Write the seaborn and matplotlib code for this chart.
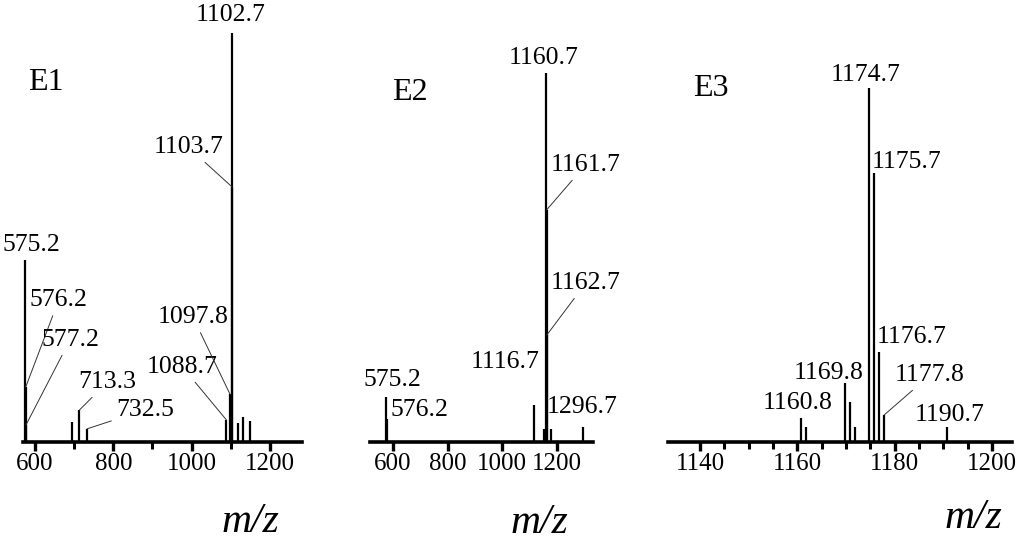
import matplotlib
matplotlib.use("Agg")
import matplotlib.pyplot as plt
import seaborn as sns

# peak lists (relative intensity, %)
e1_mz = [575.2, 576.2, 577.2, 695.0, 713.3, 732.5, 1088.7, 1097.8, 1102.7, 1103.7, 1118.0, 1131.0, 1149.0]
e1_int = [44.5, 13.4, 4.2, 4.9, 7.8, 3.2, 5.4, 11.7, 100.0, 62.3, 4.6, 6.1, 5.1]
e1_labels = [1102.7, 1103.7, 575.2, 576.2, 577.2, 713.3, 732.5, 1088.7, 1097.8]

e2_mz = [575.2, 576.2, 1116.7, 1152.0, 1160.7, 1161.7, 1162.7, 1178.0, 1296.7]
e2_int = [12.2, 6.2, 10.0, 3.5, 100.0, 62.9, 29.0, 3.5, 4.0]
e2_labels = [1160.7, 1161.7, 1162.7, 575.2, 576.2, 1116.7, 1296.7]

e3_mz = [1160.8, 1161.8, 1169.8, 1170.8, 1171.8, 1174.7, 1175.7, 1176.7, 1177.8, 1190.7]
e3_int = [6.8, 4.2, 16.7, 11.3, 4.2, 100.0, 76.0, 25.4, 7.6, 4.2]
e3_labels = [1174.7, 1175.7, 1176.7, 1177.8, 1169.8, 1160.8, 1190.7]

panel_names = ["E1", "E2", "E3"]

# label placement: (dx, dy) in pixels from the peak top, and whether a leader line is drawn
e1_offsets = [(-1, 18, False), (-44, 40, True), (6, 15, False), (33, 87, True), (44, 85, True),
              (28, 28, True), (58, 19, True), (-44, 53, True), (-37, 77, True)]
e2_offsets = [(-3, 15, False), (39, 45, True), (39, 52, True), (6, 17, False), (33, 9, False),
              (-29, 43, False), (-1, 20, False)]
e3_offsets = [(-3, 13, False), (33, 11, False), (33, 15, False), (46, 40, True), (-16, 10, False),
              (-4, 15, False), (3, 12, False)]

sns.set_theme(style="white")
plt.rcParams['font.family'] = ['Liberation Serif', 'DejaVu Serif']
plt.rcParams['text.color'] = 'black'
plt.rcParams['xtick.color'] = 'black'
plt.rcParams['xtick.labelcolor'] = 'black'

W, H = 1024, 542
fig = plt.figure(figsize=(W / 100, H / 100), dpi=100)

bottom = (H - 442) / H
height = 432 / H
axes_boxes = [(23, 279), (370, 223), (668, 344)]
xlims = [(569.4, 1281.7), (515.8, 1331.7), (1133.4, 1204.1)]
ylims = [105.6, 117.1, 122.0]
major = [[600, 800, 1000, 1200], [600, 800, 1000, 1200], [1140, 1160, 1180, 1200]]
minor = [[700, 900, 1100], [], [1145, 1150, 1155, 1165, 1170, 1175, 1185, 1190, 1195]]
name_pos = [(46, 83), (410, 92), (711, 88)]
mz_pos = [(250, 522), (539, 523), (973, 518)]

series = [(e1_mz, e1_int, e1_labels, e1_offsets),
          (e2_mz, e2_int, e2_labels, e2_offsets),
          (e3_mz, e3_int, e3_labels, e3_offsets)]

for i, (mz, inten, labels, offsets) in enumerate(series):
    left, width = axes_boxes[i]
    ax = fig.add_axes([left / W, bottom, width / W, height])
    ax.vlines(mz, 0, inten, color="black", lw=1.6)
    ax.set_xlim(*xlims[i])
    ax.set_ylim(0, ylims[i])
    sns.despine(ax=ax, left=True)
    ax.spines['bottom'].set_linewidth(2.6)
    ax.spines['bottom'].set_color("black")
    ax.set_yticks([])
    ax.set_xticks(major[i])
    ax.set_xticks(minor[i], minor=True)
    ax.set_xticklabels([str(t) for t in major[i]])
    ax.tick_params(axis="x", which="major", direction="out", length=6.5, width=2.4,
                   color="black", labelcolor="black", labelsize=18, pad=1.5, bottom=True)
    ax.tick_params(axis="x", which="minor", direction="out", length=5, width=2.2,
                   color="black", bottom=True)

    for lab, (dx, dy, line) in zip(labels, offsets):
        y = inten[mz.index(lab)]
        arrow = dict(arrowstyle="-", color="#333333", lw=0.7, shrinkA=1, shrinkB=0) if line else None
        ax.annotate(f"{lab:.1f}", xy=(lab, y), xytext=(dx, dy), textcoords="offset pixels",
                    ha="center", va="center", fontsize=18.5, color="black",
                    arrowprops=arrow, annotation_clip=False)

    nx, ny = name_pos[i]
    fig.text(nx / W, 1 - ny / H, panel_names[i], ha="center", va="center", fontsize=23,
             color="black")
    mx, my = mz_pos[i]
    fig.text(mx / W, 1 - my / H, "m/z", ha="center", va="center", fontsize=30, style="italic",
             color="black")

fig.savefig("out.png", dpi=100)
